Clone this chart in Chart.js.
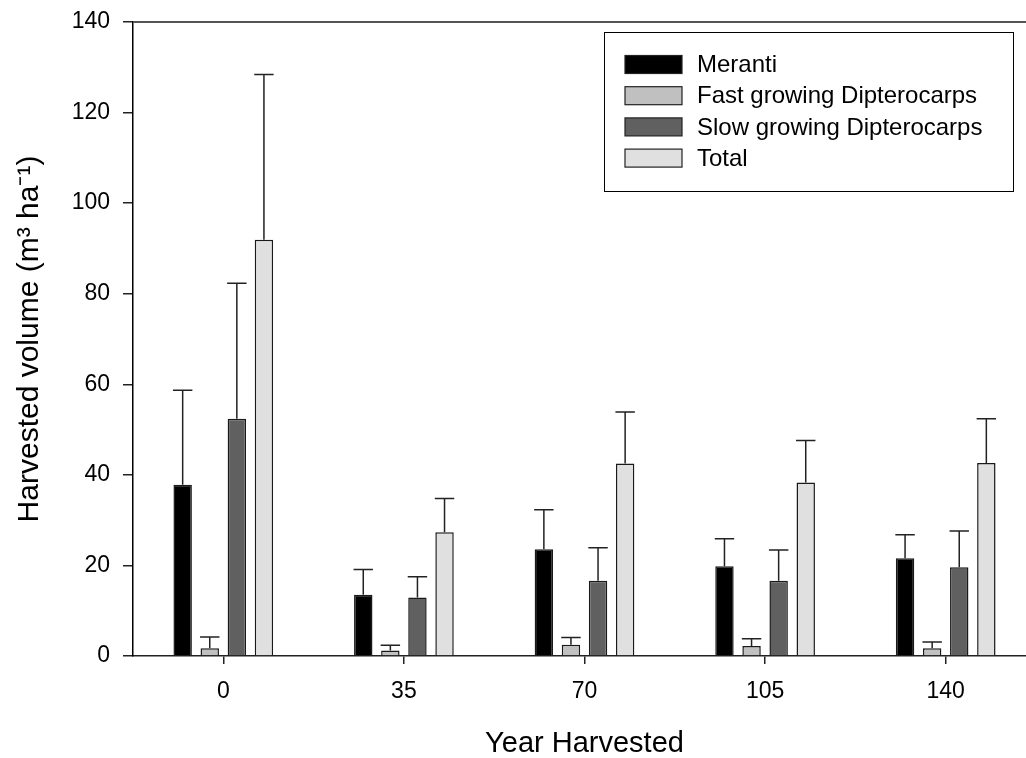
<!DOCTYPE html>
<html>
<head>
<meta charset="utf-8">
<script src="https://cdn.jsdelivr.net/npm/chart.js@4.4.1/dist/chart.umd.min.js"></script>
<style>
  html, body { margin: 0; padding: 0; background: #fff; overflow: hidden; }
  #wrap { position: absolute; left: 0; top: 0; width: 1036px; height: 758px; }
</style>
</head>
<body>
<div id="wrap"><canvas id="harvestChart" width="1036" height="758"></canvas></div>
<script>
const years = [0, 35, 70, 105, 140];
const yTicks = [0, 20, 40, 60, 80, 100, 120, 140];

const seriesNames = ["Meranti", "Fast growing Dipterocarps", "Slow growing Dipterocarps", "Total"];
const meranti = [37.8, 13.5, 23.6, 19.8, 21.6];
const merantiErr = [20.9, 5.6, 8.7, 6.1, 5.2];
const fastGrowing = [1.7, 1.2, 2.5, 2.2, 1.7];
const fastGrowingErr = [2.5, 1.2, 1.6, 1.6, 1.4];
const slowGrowing = [52.4, 12.9, 16.6, 16.6, 19.6];
const slowGrowingErr = [29.9, 4.6, 7.3, 6.8, 8.0];
const total = [91.9, 27.3, 42.5, 38.3, 42.6];
const totalErr = [36.5, 7.5, 11.4, 9.3, 9.8];

const fills = ["#000000", "#c0c0c0", "#606060", "#e0e0e0"];
const FONT = "'Liberation Sans', Arial, sans-serif";

const values = [meranti, fastGrowing, slowGrowing, total];
const errors = [merantiErr, fastGrowingErr, slowGrowingErr, totalErr];

// error bars (upper only) drawn from each bar top
const errorBars = {
    id: "errorBars",
    afterDatasetsDraw(chart) {
        const ctx = chart.ctx;
        const y = chart.scales.y;
        ctx.save();
        ctx.strokeStyle = "#222";
        ctx.lineWidth = 1.5;
        chart.data.datasets.forEach((ds, i) => {
            const meta = chart.getDatasetMeta(i);
            meta.data.forEach((bar, j) => {
                const top = y.getPixelForValue(ds.data[j].y + ds.err[j]);
                const half = bar.width / 2 + 0.5;
                ctx.beginPath();
                ctx.moveTo(bar.x, bar.y);
                ctx.lineTo(bar.x, top);
                ctx.moveTo(bar.x - half, top);
                ctx.lineTo(bar.x + half, top);
                ctx.stroke();
            });
        });
        ctx.restore();
    }
};

// top frame line + boxed legend inside the plot
const frameAndLegend = {
    id: "frameAndLegend",
    afterDraw(chart) {
        const ctx = chart.ctx;
        const area = chart.chartArea;
        ctx.save();
        ctx.strokeStyle = "#555";
        ctx.lineWidth = 2;
        ctx.beginPath();
        ctx.moveTo(area.left, area.top);
        ctx.lineTo(area.right, area.top);
        ctx.stroke();

        const box = { x: 604.5, y: 32.5, w: 409, h: 159 };
        ctx.fillStyle = "#fff";
        ctx.fillRect(box.x, box.y, box.w, box.h);
        ctx.strokeStyle = "#000";
        ctx.lineWidth = 1;
        ctx.strokeRect(box.x, box.y, box.w, box.h);

        ctx.font = "24px " + FONT;
        ctx.textBaseline = "middle";
        ctx.textAlign = "left";
        chart.data.datasets.forEach((ds, i) => {
            const cy = 64.5 + i * 31.2;
            ctx.fillStyle = ds.backgroundColor;
            ctx.fillRect(625, cy - 9, 57, 18);
            ctx.strokeStyle = "#222";
            ctx.lineWidth = 1.2;
            ctx.strokeRect(625, cy - 9, 57, 18);
            ctx.fillStyle = "#000";
            ctx.fillText(ds.label, 697, cy + 1);
        });
        ctx.restore();
    }
};

new Chart(document.getElementById("harvestChart"), {
    type: "bar",
    data: {
        datasets: seriesNames.map((name, i) => ({
            label: name,
            data: years.map((yr, j) => ({ x: yr, y: values[i][j] })),
            err: errors[i],
            backgroundColor: fills[i],
            borderColor: "#1a1a1a",
            borderWidth: 1.5,
            borderSkipped: "bottom",
            categoryPercentage: 0.6,
            barPercentage: 0.68
        }))
    },
    options: {
        responsive: false,
        animation: false,
        layout: { padding: { top: 22, right: 0, bottom: 0, left: 0 } },
        plugins: {
            legend: { display: false },
            tooltip: { enabled: false }
        },
        scales: {
            x: {
                type: "linear",
                offset: false,
                min: -17.5,
                max: 157.5,
                afterBuildTicks: (scale) => { scale.ticks = years.map(v => ({ value: v })); },
                afterFit: (scale) => { scale.height = 102; },
                grid: { display: true, offset: false, drawOnChartArea: false, drawTicks: true, tickLength: 8, color: "#222", lineWidth: 1.5 },
                border: { display: true, color: "#222", width: 1.5 },
                ticks: { color: "#000", font: { family: FONT, size: 23 }, padding: 14, maxRotation: 0, autoSkip: false },
                title: {
                    display: true,
                    text: "Year Harvested",
                    color: "#000",
                    font: { family: FONT, size: 29, lineHeight: 1 },
                    padding: { top: 0, bottom: 0 }
                }
            },
            y: {
                min: 0,
                max: 140,
                afterBuildTicks: (scale) => { scale.ticks = yTicks.map(v => ({ value: v })); },
                afterFit: (scale) => { scale.width = 133; },
                grid: { display: true, drawOnChartArea: false, drawTicks: true, tickLength: 10, color: "#222", lineWidth: 1.5 },
                border: { display: true, color: "#000", width: 1.5 },
                ticks: { color: "#000", font: { family: FONT, size: 23, lineHeight: 0.7 }, padding: 13 },
                title: {
                    display: true,
                    text: "Harvested volume (m\u00b3 ha\u207b\u00b9)",
                    color: "#000",
                    font: { family: FONT, size: 30, lineHeight: 1 },
                    padding: { top: 15, bottom: 0 }
                }
            }
        }
    },
    plugins: [errorBars, frameAndLegend]
});
</script>
</body>
</html>
